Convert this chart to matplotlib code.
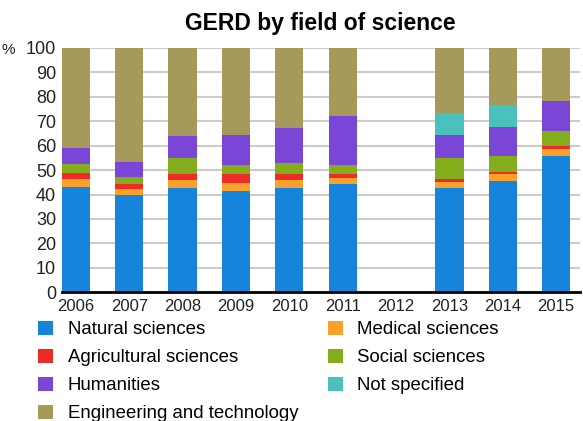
import matplotlib
matplotlib.use("Agg")
import matplotlib.pyplot as plt
import numpy as np

plt.rcParams['font.family'] = ['Liberation Sans', 'DejaVu Sans']

years = ['2006', '2007', '2008', '2009', '2010', '2011', '2012', '2013', '2014', '2015']
natural = [43.2, 39.7, 42.5, 41.4, 42.7, 44.5, 0, 42.5, 45.5, 55.8]
medical = [3.1, 2.4, 3.3, 3.4, 3.2, 2.1, 0, 2.7, 3.1, 2.8]
agricultural = [2.6, 2.0, 2.4, 3.6, 2.5, 1.9, 0, 1.0, 0.7, 1.3]
social = [3.4, 3.0, 6.6, 3.8, 4.3, 3.6, 0, 8.6, 6.5, 6.3]
humanities = [6.6, 6.3, 9.2, 12.2, 14.4, 20.1, 0, 9.6, 11.9, 12.2]
not_specified = [0, 0, 0, 0, 0, 0, 0, 8.9, 9.0, 0]
engineering = [41.0, 46.6, 36.0, 35.6, 32.9, 27.8, 0, 26.7, 23.3, 21.6]

series = [
    ('Natural sciences', natural, '#1784dc'),
    ('Medical sciences', medical, '#f9a12a'),
    ('Agricultural sciences', agricultural, '#ee2b26'),
    ('Social sciences', social, '#84ad1d'),
    ('Humanities', humanities, '#7a46d8'),
    ('Not specified', not_specified, '#4bc1be'),
    ('Engineering and technology', engineering, '#a69a5a'),
]

fig = plt.figure(figsize=(5.83, 4.21), dpi=100)
ax = fig.add_axes([0.106, 0.306, 0.889, 0.58])

x = np.arange(len(years))
bottom = np.zeros(len(years))
handles = {}
for name, vals, col in series:
    b = ax.bar(x, vals, width=0.53, bottom=bottom, color=col, label=name, zorder=3)
    handles[name] = b
    bottom += np.array(vals)

ax.set_ylim(0, 100)
ax.set_xlim(-0.265, 9.45)
ax.set_yticks(range(0, 101, 10))
ax.yaxis.grid(True, color='#cccccc', lw=1.5, zorder=0)
ax.set_xticks(x)
ax.set_xticklabels(years)
ax.tick_params(axis='both', length=0, colors='#222222')
ax.tick_params(axis='x', pad=5, labelsize=12)
ax.tick_params(axis='y', pad=4, labelsize=13)
for s in ['top', 'right', 'left']:
    ax.spines[s].set_visible(False)
ax.spines['bottom'].set_linewidth(2)
ax.spines['bottom'].set_zorder(4)

# the % sign sits just left of the "100" label
fig.text(0.002, 0.872, '%', fontsize=11, color='#222222')
fig.text(0.55, 0.945, 'GERD by field of science', fontsize=16.5, fontweight='bold',
         ha='center', va='center')

left_col = ['Natural sciences', 'Agricultural sciences', 'Humanities',
            'Engineering and technology']
right_col = ['Medical sciences', 'Social sciences', 'Not specified']
leg_kw = dict(loc='upper left', frameon=False, fontsize=13.4,
              handlelength=0.8, handleheight=0.8, handletextpad=0.8,
              labelspacing=0.56, borderaxespad=0, borderpad=0)
fig.legend([handles[n] for n in left_col], left_col,
           bbox_to_anchor=(0.065, 0.238), **leg_kw)
fig.legend([handles[n] for n in right_col], right_col,
           bbox_to_anchor=(0.562, 0.238), **leg_kw)

fig.savefig('out.png', dpi=100)
